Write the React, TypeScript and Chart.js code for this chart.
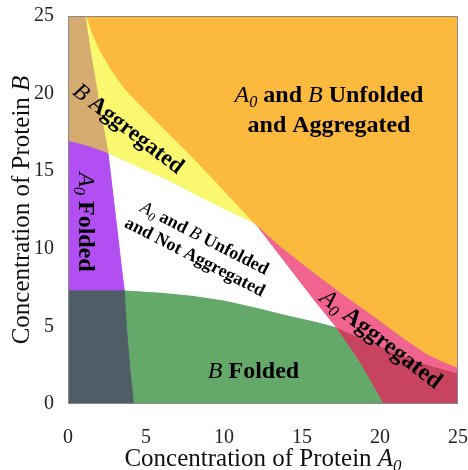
import React, { useEffect, useRef } from 'react';
import { Chart, registerables } from 'chart.js';

Chart.register(...registerables);

type P = [number, number];

// Axis ticks
const xTickValues = [0, 5, 10, 15, 20, 25];
const yTickValues = [0, 5, 10, 15, 20, 25];

// Phase boundaries (x = concentration of A0, y = concentration of B)
const aFoldedLine: P[] = [[1.09, 25], [1.45, 22.6], [1.84, 20.3], [2.2, 18.2], [2.56, 16.2], [3.05, 12], [3.44, 8.65], [3.6, 7.35], [3.76, 4.77], [3.95, 2.4], [4.2, 0]];
const bAggLine: P[] = [[0, 17.0], [1.3, 16.65], [2.56, 16.2], [4.5, 15.3], [6.4, 14.45], [8.46, 13.37], [10.2, 12.5], [11.9, 11.7]];
const unfoldAggLine: P[] = [[1.2, 25], [1.6, 23.8], [2.1, 22.7], [2.8, 21.5], [3.65, 20.3], [4.7, 19.2], [6.0, 17.9], [7.7, 16.2], [9.5, 14.3], [11.9, 11.7], [13.7, 10.1], [15.6, 8.6], [17.6, 7.1], [19.7, 5.6], [21.3, 4.4], [22.9, 3.3], [24.0, 2.75], [25, 2.35]];
const aAggLine: P[] = [[11.9, 11.7], [13.2, 10.0], [14.5, 8.3], [15.8, 6.6], [17.1, 5.0], [17.9, 3.85], [18.7, 2.65], [19.45, 1.35], [20.2, 0]];
const bFoldLine: P[] = [[0, 7.35], [3.6, 7.35], [6, 7.2], [8, 7.0], [10, 6.7], [12, 6.25], [14, 5.75], [16, 5.3], [17.1, 5.0], [19, 4.15], [21.3, 3.2], [23, 2.55], [25, 2.0]];

// Region colours
const colOrange = '#FBB93D';
const colYellow = '#F9F86E';
const colTan = '#D5AB70';
const colPurple = '#B24FF3';
const colSlate = '#4F5E66';
const colGreen = '#65A96A';
const colPink = '#F0648F';
const colRed = '#C7435F';
const colWhite = '#FFFFFF';

const idx = (line: P[], p: P) => line.findIndex((q) => q[0] === p[0] && q[1] === p[1]);
const seg = (line: P[], a: P, b: P): P[] => {
  const i = idx(line, a);
  const j = idx(line, b);
  return i <= j ? line.slice(i, j + 1) : line.slice(j, i + 1).reverse();
};

const pAFTop = aFoldedLine[0];
const pAFxBAgg: P = [2.56, 16.2];
const pAFxBFold: P = [3.6, 7.35];
const pAFBottom = aFoldedLine[aFoldedLine.length - 1];
const pTriple: P = [11.9, 11.7];
const pAAxBFold: P = [17.1, 5.0];
const pAABottom = aAggLine[aAggLine.length - 1];
const pUATop = unfoldAggLine[0];
const pUAEnd = unfoldAggLine[unfoldAggLine.length - 1];
const pBFEnd = bFoldLine[bFoldLine.length - 1];

function buildRegions() {
  const regions: { color: string; pts: P[] }[] = [];
  regions.push({ color: colOrange, pts: [...unfoldAggLine, [25, 25], [pUATop[0], 25]] });
  regions.push({ color: colTan, pts: [[0, 25], ...seg(aFoldedLine, pAFTop, pAFxBAgg), ...seg(bAggLine, pAFxBAgg, [0, 17.0]).slice(1)] });
  regions.push({
    color: colYellow,
    pts: [pAFTop, ...seg(unfoldAggLine, pUATop, pTriple), ...seg(bAggLine, pTriple, pAFxBAgg).slice(1), ...seg(aFoldedLine, pAFxBAgg, pAFTop).slice(1)],
  });
  regions.push({ color: colPurple, pts: [...seg(bAggLine, [0, 17.0], pAFxBAgg), ...seg(aFoldedLine, pAFxBAgg, pAFxBFold).slice(1), [0, 7.35]] });
  regions.push({ color: colSlate, pts: [[0, 7.35], ...seg(aFoldedLine, pAFxBFold, pAFBottom), [0, 0]] });
  regions.push({
    color: colWhite,
    pts: [...seg(bAggLine, pAFxBAgg, pTriple), ...seg(aAggLine, pTriple, pAAxBFold).slice(1), ...seg(bFoldLine, pAAxBFold, pAFxBFold).slice(1), ...seg(aFoldedLine, pAFxBFold, pAFxBAgg).slice(1)],
  });
  regions.push({
    color: colGreen,
    pts: [...seg(bFoldLine, pAFxBFold, pAAxBFold), ...seg(aAggLine, pAAxBFold, pAABottom).slice(1), ...seg(aFoldedLine, pAFBottom, pAFxBFold)],
  });
  regions.push({
    color: colPink,
    pts: [...seg(unfoldAggLine, pTriple, pUAEnd), ...seg(bFoldLine, pBFEnd, pAAxBFold), ...seg(aAggLine, pAAxBFold, pTriple).slice(1)],
  });
  regions.push({
    color: colRed,
    pts: [...seg(bFoldLine, pAAxBFold, pBFEnd), [25, 0], ...seg(aAggLine, pAABottom, pAAxBFold)],
  });
  return regions;
}

type Seg = { t: string; it?: boolean; b?: boolean; sub?: boolean };
const FONT = '"Liberation Serif", "Times New Roman", serif';

function fontOf(s: Seg, size: number) {
  const sz = s.sub ? size * 0.68 : size;
  return `${s.it ? 'italic ' : ''}${s.b ? 'bold ' : ''}${sz}px ${FONT}`;
}

function drawRich(ctx: CanvasRenderingContext2D, lines: Seg[][], x: number, y: number, size: number, angle: number, lineH: number) {
  ctx.save();
  ctx.translate(x, y);
  ctx.rotate((angle * Math.PI) / 180);
  ctx.textBaseline = 'alphabetic';
  ctx.textAlign = 'left';
  ctx.fillStyle = '#000';
  const n = lines.length;
  lines.forEach((segs, li) => {
    let w = 0;
    for (const s of segs) {
      ctx.font = fontOf(s, size);
      w += ctx.measureText(s.t).width;
    }
    let cx = -w / 2;
    const by = (li - (n - 1) / 2) * lineH + size * 0.33;
    for (const s of segs) {
      ctx.font = fontOf(s, size);
      ctx.fillText(s.t, cx, by + (s.sub ? size * 0.2 : 0));
      cx += ctx.measureText(s.t).width;
    }
  });
  ctx.restore();
}

const A0b: Seg[] = [{ t: 'A', it: true }, { t: '0', it: true, sub: true }];

const regionLabels: { x: number; y: number; size: number; angle: number; lineH: number; lines: Seg[][] }[] = [
  {
    x: 16.73, y: 19.0, size: 24, angle: 0, lineH: 30,
    lines: [
      [...A0b, { t: ' and ', b: true }, { t: 'B', it: true }, { t: ' Unfolded', b: true }],
      [{ t: 'and Aggregated', b: true }],
    ],
  },
  { x: 11.89, y: 2.19, size: 24, angle: 0, lineH: 0, lines: [[{ t: 'B', it: true }, { t: ' Folded', b: true }]] },
  { x: 3.91, y: 17.78, size: 23, angle: 37.5, lineH: 0, lines: [[{ t: 'B', it: true }, { t: ' Aggregated', b: true }]] },
  { x: 1.22, y: 11.73, size: 24, angle: 90, lineH: 0, lines: [[...A0b, { t: ' Folded', b: true }]] },
  {
    x: 8.46, y: 10.12, size: 18, angle: 27, lineH: 21,
    lines: [
      [...A0b, { t: ' and ', b: true }, { t: 'B', it: true }, { t: ' Unfolded', b: true }],
      [{ t: 'and Not Aggregated', b: true }],
    ],
  },
  { x: 20.1, y: 4.22, size: 24, angle: 37.5, lineH: 0, lines: [[...A0b, { t: ' Aggregated', b: true }]] },
];

const overlayPlugin = {
  id: 'overlay',
  afterDatasetsDraw(chart: any) {
    const { ctx, chartArea, scales } = chart;
    const xs = scales.x;
    const ys = scales.y;
    ctx.save();
    ctx.strokeStyle = '#8a8a8a';
    ctx.lineWidth = 1;
    ctx.strokeRect(Math.round(chartArea.left) + 0.5, Math.round(chartArea.top) + 0.5, Math.round(chartArea.right - chartArea.left) - 1, Math.round(chartArea.bottom - chartArea.top) - 1);
    ctx.restore();
    for (const l of regionLabels) {
      drawRich(ctx, l.lines, xs.getPixelForValue(l.x), ys.getPixelForValue(l.y), l.size, l.angle, l.lineH);
    }
    // axis titles
    const cxMid = (chartArea.left + chartArea.right) / 2;
    const cyMid = (chartArea.top + chartArea.bottom) / 2;
    ctx.save();
    ctx.fillStyle = '#111';
    const title = (segs: Seg[], size: number) => {
      let w = 0;
      for (const s of segs) {
        ctx.font = fontOf(s, size);
        w += ctx.measureText(s.t).width;
      }
      let cx = -w / 2;
      for (const s of segs) {
        ctx.font = fontOf(s, size);
        ctx.fillText(s.t, cx, s.sub ? size * 0.2 : 0);
        cx += ctx.measureText(s.t).width;
      }
    };
    ctx.textBaseline = 'alphabetic';
    ctx.textAlign = 'left';
    ctx.save();
    ctx.translate(cxMid, chartArea.bottom + 62);
    title([{ t: 'Concentration of Protein ' }, { t: 'A', it: true }, { t: '0', it: true, sub: true }], 25);
    ctx.restore();
    ctx.save();
    ctx.translate(28.5, cyMid);
    ctx.rotate(-Math.PI / 2);
    title([{ t: 'Concentration of Protein ' }, { t: 'B', it: true }], 25);
    ctx.restore();
    ctx.restore();
  },
};

const zeroPad = (s: any) => {
  s.paddingLeft = 0;
  s.paddingRight = 0;
  s.paddingTop = 0;
  s.paddingBottom = 0;
};

export default function App() {
  const ref = useRef<HTMLCanvasElement>(null);
  useEffect(() => {
    if (!ref.current) return;
    const regions = buildRegions();
    const chart = new Chart(ref.current, {
      type: 'line',
      data: {
        datasets: regions.map((r) => ({
          data: [...r.pts, r.pts[0]].map(([x, y]) => ({ x, y })),
          backgroundColor: r.color,
          borderColor: r.color,
          borderWidth: 1,
          pointRadius: 0,
          fill: 'shape',
          tension: 0,
        })),
      },
      options: {
        animation: false,
        responsive: true,
        maintainAspectRatio: false,
        devicePixelRatio: 1,
        layout: { padding: { left: 0, right: 10, top: 16, bottom: 0 } },
        plugins: { legend: { display: false }, tooltip: { enabled: false } },
        events: [],
        scales: {
          x: {
            type: 'linear',
            min: 0,
            max: 25,
            grid: { display: false, drawTicks: false },
            border: { display: false },
            afterBuildTicks: (s: any) => {
              s.ticks = xTickValues.map((v) => ({ value: v }));
            },
            afterFit: (s: any) => {
              s.height = 66;
              zeroPad(s);
            },
            ticks: { color: '#222', padding: 22, font: { family: FONT, size: 20 } },
          },
          y: {
            type: 'linear',
            min: 0,
            max: 25,
            grid: { display: false, drawTicks: false },
            border: { display: false },
            afterBuildTicks: (s: any) => {
              s.ticks = yTickValues.map((v) => ({ value: v }));
            },
            afterFit: (s: any) => {
              s.width = 68;
              zeroPad(s);
            },
            ticks: { color: '#222', padding: 14, font: { family: FONT, size: 20 } },
          },
        },
      },
      plugins: [overlayPlugin],
    });
    return () => chart.destroy();
  }, []);
  return (
    <div style={{ position: 'fixed', left: 0, top: 0, width: 468, height: 470, background: '#fff' }}>
      <canvas ref={ref} />
    </div>
  );
}
